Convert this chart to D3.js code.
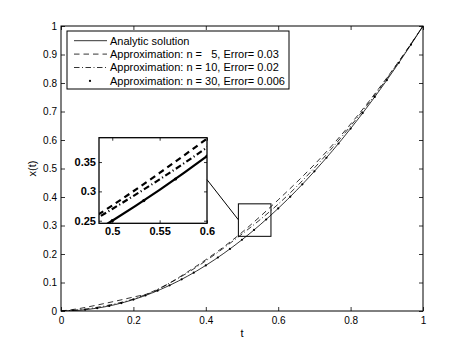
<!DOCTYPE html>
<html lang="en">
<head>
    <meta charset="UTF-8">
    <title>Analytic solution vs approximations</title>
    <style>
        body { margin: 0; background: #fff; }
        svg text { font-family: "Liberation Sans", Arial, sans-serif; fill: #000; }
        .axis path { display: none; }
        .axis line { stroke: #000; stroke-width: 0.8; }
        .axis text { font-size: 10px; }
        .inset .axis text { font-size: 11px; font-weight: bold; }
    </style>
</head>
<body>
    <div id="chart"></div>

    <script src="https://d3js.org/d3.v7.min.js"></script>
    <script>
        // Data
        const tGrid = [0, 0.05, 0.1, 0.15, 0.2, 0.25, 0.3, 0.35, 0.4, 0.45, 0.5,
                       0.55, 0.6, 0.65, 0.7, 0.75, 0.8, 0.85, 0.9, 0.95, 1];
        const xAnalytic = [0, 0.0025, 0.01, 0.0225, 0.04, 0.0625, 0.09, 0.1225, 0.16, 0.2025, 0.25,
                           0.3025, 0.36, 0.4225, 0.49, 0.5625, 0.64, 0.7225, 0.81, 0.9025, 1];
        const xApprox5 = [0, 0.0085, 0.021, 0.0345, 0.049, 0.0645, 0.098, 0.1375, 0.18, 0.2255, 0.276,
                          0.3315, 0.39, 0.4505, 0.514, 0.5825, 0.656, 0.7345, 0.818, 0.9065, 1];
        const xApprox10 = [0, 0.0045, 0.013, 0.0255, 0.042, 0.0665, 0.098, 0.1345, 0.176, 0.2215, 0.27,
                           0.3205, 0.375, 0.4355, 0.502, 0.5735, 0.649, 0.7295, 0.815, 0.9055, 1];
        const tDots = [0, 0.0333, 0.0667, 0.1, 0.1333, 0.1667, 0.2, 0.2333, 0.2667, 0.3, 0.3333,
                       0.3667, 0.4, 0.4333, 0.4667, 0.5, 0.5333, 0.5667, 0.6, 0.6333, 0.6667,
                       0.7, 0.7333, 0.7667, 0.8, 0.8333, 0.8667, 0.9, 0.9333, 0.9667, 1];
        const xApprox30 = [0, 0.0011, 0.0044, 0.01, 0.0178, 0.0278, 0.04, 0.0544, 0.0711, 0.09, 0.1111,
                           0.1344, 0.16, 0.1878, 0.2178, 0.25, 0.2844, 0.3211, 0.36, 0.4011, 0.4444,
                           0.49, 0.5378, 0.5878, 0.64, 0.6944, 0.7511, 0.81, 0.8711, 0.9344, 1];
        const legendLabels = ["Analytic solution",
                              "Approximation: n =   5, Error= 0.03",
                              "Approximation: n = 10, Error= 0.02",
                              "Approximation: n = 30, Error= 0.006"];
        const xTicks = [0, 0.2, 0.4, 0.6, 0.8, 1];
        const yTicks = [0, 0.1, 0.2, 0.3, 0.4, 0.5, 0.6, 0.7, 0.8, 0.9, 1];
        const insetXTicks = [0.5, 0.55, 0.6];
        const insetYTicks = [0.25, 0.3, 0.35];
        const zoomBox = { t0: 0.49, t1: 0.58, x0: 0.262, x1: 0.376 };
        const connector = { insetT: 0.6, mainT: 0.49, x: 0.32 };

        document.addEventListener("DOMContentLoaded", function() {
            const W = 467, H = 351;
            const margin = { top: 26, right: 44, bottom: 40, left: 61 };

            const svg = d3.select("#chart").append("svg")
                .attr("width", W)
                .attr("height", H);

            const x = d3.scaleLinear().domain([0, 1]).range([margin.left, W - margin.right]);
            const y = d3.scaleLinear().domain([0, 1]).range([H - margin.bottom, margin.top]);

            const fmt = d => String(+d.toFixed(2));

            // Axes (MATLAB-style inward ticks on all four sides)
            svg.append("g").attr("class", "axis")
                .attr("transform", `translate(0,${y(0)})`)
                .call(d3.axisBottom(x).tickValues(xTicks).tickFormat(fmt)
                    .tickSizeInner(-4).tickSizeOuter(0).tickPadding(6));
            svg.append("g").attr("class", "axis")
                .attr("transform", `translate(0,${y(1)})`)
                .call(d3.axisTop(x).tickValues(xTicks).tickFormat("")
                    .tickSizeInner(-4).tickSizeOuter(0));
            svg.append("g").attr("class", "axis")
                .attr("transform", `translate(${x(0)},0)`)
                .call(d3.axisLeft(y).tickValues(yTicks).tickFormat(fmt)
                    .tickSizeInner(-4).tickSizeOuter(0).tickPadding(4));
            svg.append("g").attr("class", "axis")
                .attr("transform", `translate(${x(1)},0)`)
                .call(d3.axisRight(y).tickValues(yTicks).tickFormat("")
                    .tickSizeInner(-4).tickSizeOuter(0));

            svg.append("rect")
                .attr("x", x(0)).attr("y", y(1))
                .attr("width", x(1) - x(0)).attr("height", y(0) - y(1))
                .attr("fill", "none").attr("stroke", "#000").attr("stroke-width", 1);

            // Axis labels
            svg.append("text")
                .attr("x", (x(0) + x(1)) / 2).attr("y", 337)
                .attr("text-anchor", "middle").attr("font-size", 11)
                .text("t");
            svg.append("text")
                .attr("transform", `translate(36,${(y(0) + y(1)) / 2}) rotate(-90)`)
                .attr("text-anchor", "middle").attr("font-size", 11)
                .text("x(t)");

            // Series
            const series = [
                { name: "analytic", t: tGrid, v: xAnalytic, dash: null },
                { name: "n5", t: tGrid, v: xApprox5, dash: "5.5,4" },
                { name: "n10", t: tGrid, v: xApprox10, dash: "5.5,2.5,1,2.5" }
            ];

            function drawSeries(g, sx, sy, width, dotR, dashScale) {
                const line = d3.line()
                    .x(d => sx(d[0]))
                    .y(d => sy(d[1]))
                    .curve(d3.curveMonotoneX);
                series.forEach(s => {
                    g.append("path")
                        .datum(s.t.map((t, i) => [t, s.v[i]]))
                        .attr("d", line)
                        .attr("fill", "none")
                        .attr("stroke", "#000")
                        .attr("stroke-width", width)
                        .attr("stroke-dasharray", s.dash ? s.dash.split(",").map(v => v * dashScale).join(",") : null);
                });
                g.selectAll("circle.dot")
                    .data(tDots.map((t, i) => [t, xApprox30[i]]))
                    .join("circle")
                    .attr("class", "dot")
                    .attr("cx", d => sx(d[0]))
                    .attr("cy", d => sy(d[1]))
                    .attr("r", dotR)
                    .attr("fill", "#000");
            }

            svg.append("clipPath").attr("id", "mainClip")
                .append("rect")
                .attr("x", x(0)).attr("y", y(1))
                .attr("width", x(1) - x(0)).attr("height", y(0) - y(1));
            const plot = svg.append("g").attr("clip-path", "url(#mainClip)");
            drawSeries(plot, x, y, 0.8, 1.1, 1);

            // Zoom rectangle on the main plot
            svg.append("rect")
                .attr("x", x(zoomBox.t0)).attr("y", y(zoomBox.x1))
                .attr("width", x(zoomBox.t1) - x(zoomBox.t0))
                .attr("height", y(zoomBox.x0) - y(zoomBox.x1))
                .attr("fill", "none").attr("stroke", "#000").attr("stroke-width", 1);

            // Legend
            const legend = svg.append("g");
            legend.append("rect")
                .attr("x", 67).attr("y", 31).attr("width", 222).attr("height", 58)
                .attr("fill", "#fff").attr("stroke", "#000").attr("stroke-width", 1);
            legendLabels.forEach((label, i) => {
                const cy = 40.7 + i * 13.4;
                if (i < 3) {
                    legend.append("line")
                        .attr("x1", 74).attr("x2", 107).attr("y1", cy).attr("y2", cy)
                        .attr("stroke", "#000").attr("stroke-width", 0.8)
                        .attr("stroke-dasharray", series[i].dash);
                } else {
                    legend.append("circle")
                        .attr("cx", 90).attr("cy", cy).attr("r", 1.1).attr("fill", "#000");
                }
                legend.append("text")
                    .attr("x", 110).attr("y", cy).attr("dy", "0.36em")
                    .attr("font-size", 11)
                    .style("white-space", "pre")
                    .text(label);
            });

            // Inset
            const ix = d3.scaleLinear().domain([0.486, 0.6]).range([99, 207]);
            const iy = d3.scaleLinear().domain([0.2456, 0.3915]).range([223.3, 137.7]);
            const inset = svg.append("g").attr("class", "inset");

            inset.append("rect")
                .attr("x", ix.range()[0]).attr("y", iy.range()[1])
                .attr("width", ix.range()[1] - ix.range()[0])
                .attr("height", iy.range()[0] - iy.range()[1])
                .attr("fill", "#fff");

            svg.append("clipPath").attr("id", "insetClip")
                .append("rect")
                .attr("x", ix.range()[0]).attr("y", iy.range()[1])
                .attr("width", ix.range()[1] - ix.range()[0])
                .attr("height", iy.range()[0] - iy.range()[1]);
            const insetPlot = inset.append("g").attr("clip-path", "url(#insetClip)");
            drawSeries(insetPlot, ix, iy, 2.2, 1.6, 1.1);

            inset.append("g").attr("class", "axis")
                .attr("transform", `translate(0,${iy.range()[0]})`)
                .call(d3.axisBottom(ix).tickValues(insetXTicks).tickFormat(fmt)
                    .tickSizeInner(-3).tickSizeOuter(0).tickPadding(4));
            inset.append("g").attr("class", "axis")
                .attr("transform", `translate(${ix.range()[0]},0)`)
                .call(d3.axisLeft(iy).tickValues(insetYTicks).tickFormat(fmt)
                    .tickSizeInner(-3).tickSizeOuter(0).tickPadding(3));
            inset.append("g").attr("class", "axis")
                .attr("transform", `translate(0,${iy.range()[1]})`)
                .call(d3.axisTop(ix).tickValues(insetXTicks).tickFormat("")
                    .tickSizeInner(-3).tickSizeOuter(0));
            inset.append("g").attr("class", "axis")
                .attr("transform", `translate(${ix.range()[1]},0)`)
                .call(d3.axisRight(iy).tickValues(insetYTicks).tickFormat("")
                    .tickSizeInner(-3).tickSizeOuter(0));

            inset.append("rect")
                .attr("x", ix.range()[0]).attr("y", iy.range()[1])
                .attr("width", ix.range()[1] - ix.range()[0])
                .attr("height", iy.range()[0] - iy.range()[1])
                .attr("fill", "none").attr("stroke", "#000").attr("stroke-width", 1.3);

            // Connector from inset to the zoom rectangle
            svg.append("line")
                .attr("x1", ix(connector.insetT)).attr("y1", iy(connector.x))
                .attr("x2", x(connector.mainT)).attr("y2", y(connector.x))
                .attr("stroke", "#000").attr("stroke-width", 1);
        });
    </script>
</body>
</html>
